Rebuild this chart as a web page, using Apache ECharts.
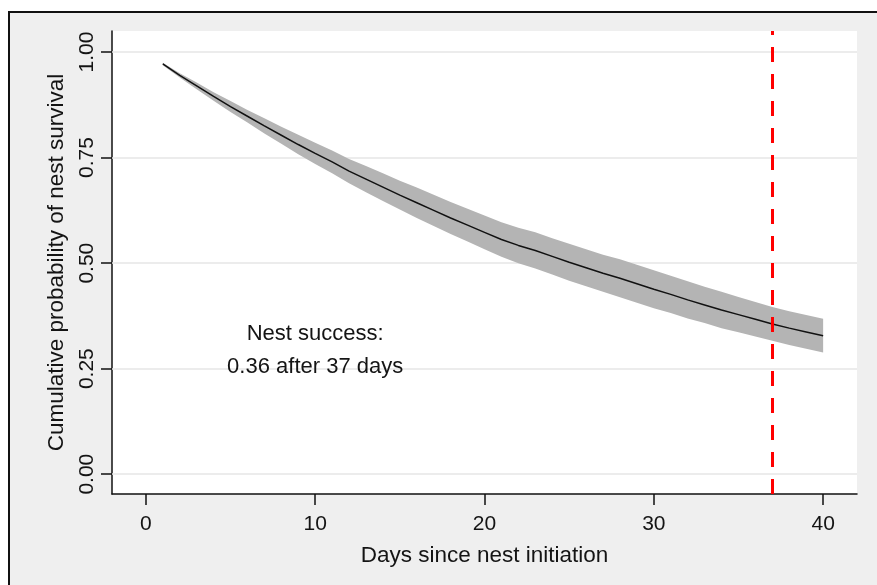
<!DOCTYPE html>
<html>
<head>
<meta charset="utf-8">
<script src="https://cdn.jsdelivr.net/npm/echarts@6/dist/echarts.min.js"></script>
<style>
  html, body { margin: 0; padding: 0; background: #fff; overflow: hidden; }
  .frame {
    position: absolute; left: 8px; top: 11px;
    width: 900px; height: 600px;
    border: 2px solid #111; background: #efefef;
  }
  #chart { position: absolute; left: 0; top: 0; width: 877px; height: 585px; }
</style>
</head>
<body>
<div class="frame"></div>
<div id="chart"></div>
<script>
// days since nest initiation
const days = [1, 2, 3, 4, 5, 6, 7, 8, 9, 10, 11, 12, 13, 14, 15, 16, 17, 18, 19, 20,
  21, 22, 23, 24, 25, 26, 27, 28, 29, 30, 31, 32, 33, 34, 35, 36, 37, 38, 39, 40]
// cumulative survival
const survival = [0.972, 0.945, 0.920, 0.895, 0.871, 0.848, 0.825, 0.803, 0.781, 0.760,
  0.740, 0.718, 0.699, 0.680, 0.661, 0.643, 0.625, 0.607, 0.590, 0.573,
  0.556, 0.542, 0.530, 0.516, 0.502, 0.489, 0.476, 0.464, 0.451, 0.438,
  0.426, 0.413, 0.401, 0.389, 0.378, 0.367, 0.356, 0.346, 0.337, 0.328]
// confidence band
const upperCI = [0.975, 0.950, 0.928, 0.905, 0.884, 0.863, 0.843, 0.823, 0.804, 0.785,
  0.767, 0.747, 0.730, 0.713, 0.695, 0.679, 0.662, 0.645, 0.629, 0.613,
  0.597, 0.584, 0.573, 0.559, 0.546, 0.533, 0.520, 0.509, 0.496, 0.483,
  0.470, 0.457, 0.444, 0.432, 0.420, 0.408, 0.396, 0.386, 0.377, 0.368]
const lowerCI = [0.969, 0.940, 0.912, 0.885, 0.858, 0.833, 0.807, 0.783, 0.758, 0.735,
  0.713, 0.689, 0.668, 0.647, 0.627, 0.607, 0.588, 0.569, 0.551, 0.533,
  0.515, 0.500, 0.487, 0.473, 0.458, 0.445, 0.432, 0.419, 0.406, 0.393,
  0.382, 0.369, 0.358, 0.346, 0.336, 0.326, 0.316, 0.306, 0.297, 0.288]
const xTicks = [0, 10, 20, 30, 40]
const yTicks = [0, 0.25, 0.5, 0.75, 1]
const cutoffDay = 37
const noteLines = ['Nest success:', '0.36 after 37 days']
const notePos = [10, 0.293]

const FONT = 'Liberation Sans'
const TEXT = '#141414'

const chart = echarts.init(document.getElementById('chart'))

const option = {
  animation: false,
  textStyle: { fontFamily: FONT },
  grid: {
    left: 112, top: 31, right: 20, bottom: 91,
    show: true, backgroundColor: '#fff', borderWidth: 0
  },
  xAxis: {
    type: 'value',
    min: -2, max: 42,
    name: 'Days since nest initiation',
    nameLocation: 'middle',
    nameGap: 50,
    nameTextStyle: { fontSize: 22.5, color: TEXT, fontFamily: FONT },
    axisLine: { onZero: false, lineStyle: { color: '#111', width: 1.5 } },
    axisTick: { show: true, length: 11, customValues: xTicks, lineStyle: { color: '#111', width: 1.5 } },
    axisLabel: { customValues: xTicks, margin: 20, fontSize: 21, color: TEXT, fontFamily: FONT },
    splitLine: { show: false }
  },
  yAxis: {
    type: 'value',
    min: -0.047, max: 1.05,
    name: 'Cumulative probability of nest survival',
    nameLocation: 'middle',
    nameGap: 44,
    nameTextStyle: { fontSize: 22.5, color: TEXT, fontFamily: FONT },
    axisLine: { show: true, onZero: false, lineStyle: { color: '#111', width: 1.5 } },
    axisTick: { show: true, length: 11, customValues: yTicks, lineStyle: { color: '#111', width: 1.5 } },
    axisLabel: {
      customValues: yTicks, rotate: 90, margin: 14, fontSize: 21, color: TEXT, fontFamily: FONT,
      formatter: v => v.toFixed(2)
    },
    splitLine: { show: false }
  },
  series: [
    {
      // gridlines
      type: 'line',
      data: [],
      z: 1,
      markLine: {
        z: 1,
        silent: true,
        symbol: 'none',
        label: { show: false },
        lineStyle: { color: '#e6e6e6', type: 'solid', width: 1.5, opacity: 1 },
        data: yTicks.map(v => ({ yAxis: v }))
      }
    },
    {
      // confidence band
      type: 'custom',
      z: 2,
      data: days.map((d, i) => [d, lowerCI[i], upperCI[i]]),
      encode: { x: 0, y: [1, 2] },
      renderItem(params, api) {
        if (params.dataIndex !== 0) return null
        const top = days.map((d, i) => api.coord([d, upperCI[i]]))
        const bottom = days.map((d, i) => api.coord([d, lowerCI[i]])).reverse()
        return {
          type: 'polygon',
          shape: { points: top.concat(bottom) },
          style: { fill: '#b4b4b4' }
        }
      }
    },
    {
      type: 'line',
      z: 3,
      data: days.map((d, i) => [d, survival[i]]),
      showSymbol: false,
      lineStyle: { color: '#111', width: 1.5 },
      markLine: {
        silent: true,
        symbol: 'none',
        label: { show: false },
        lineStyle: { color: '#ff0000', type: [15, 12], width: 3, opacity: 1 },
        data: [{ xAxis: cutoffDay }]
      }
    },
    {
      // annotation
      type: 'scatter',
      z: 4,
      symbolSize: 0,
      itemStyle: { opacity: 1 },
      data: [notePos],
      label: {
        show: true,
        position: 'inside',
        formatter: noteLines.join('\n'),
        fontSize: 22,
        lineHeight: 33,
        color: TEXT,
        textBorderWidth: 0,
        opacity: 1,
        fontFamily: FONT
      }
    }
  ]
}

chart.setOption(option)
</script>
</body>
</html>
